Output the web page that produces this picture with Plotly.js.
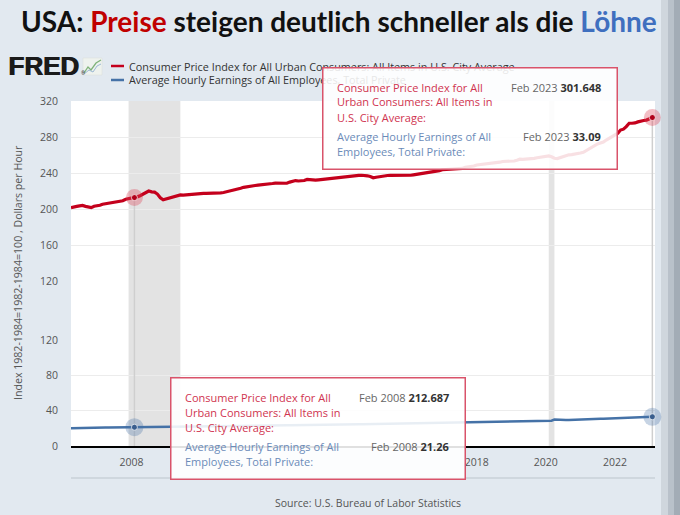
<!DOCTYPE html>
<html>
<head>
<meta charset="utf-8">
<script src="https://cdn.plot.ly/plotly-3.0.1.min.js"></script>
<style>html,body{margin:0;padding:0;background:#e2e9f0;}#chart{width:680px;height:515px;}</style>
</head>
<body>
<div id="chart"></div>
<script>
// ---- Data (monthly, Apr 2006 – Feb 2023) ----
const startMonth = '2006-04';
const cpiValues = [
 201.5,202.5,202.9,203.5,203.9,202.9,201.8,201.5,203.1,
 203.4,204.2,205.3,205.9,206.8,207.2,207.6,207.7,208.5,209.2,210.8,211.4,
 212.2,212.687,213.5,214.8,216.6,218.8,220.0,219.1,218.8,216.6,212.4,210.2,
 211.1,212.2,212.7,213.2,213.9,215.7,215.4,215.8,216.0,216.2,216.3,216.9,
 217.5,217.3,217.4,217.4,217.3,217.2,217.6,217.9,218.3,219.0,219.5,220.4,
 221.2,221.9,223.0,224.1,224.8,224.8,225.4,226.1,226.6,226.8,227.2,227.2,
 227.8,228.3,228.8,228.9,228.5,228.5,228.6,229.9,231.0,231.6,231.1,231.2,
 231.7,232.9,232.4,231.8,232.0,232.4,232.8,233.0,233.5,233.6,234.1,234.7,
 235.3,235.5,236.0,236.5,237.0,237.4,237.5,237.4,237.5,237.4,236.9,236.1,
 234.7,235.3,235.9,236.2,236.9,237.2,237.4,237.4,237.1,237.4,237.6,237.7,
 237.8,237.5,238.0,238.5,239.0,239.6,239.9,240.3,240.9,241.4,241.7,242.6,
 243.6,243.8,243.7,244.1,244.0,244.2,244.2,245.1,246.4,246.6,247.3,247.8,
 248.9,249.2,249.5,250.0,250.6,251.0,251.2,251.7,252.0,252.8,252.8,252.7,
 252.6,253.3,254.2,255.3,255.2,255.3,255.7,256.0,256.2,256.9,257.3,258.0,
 258.7,259.0,258.1,256.4,256.0,257.2,258.4,259.4,260.2,260.4,260.8,261.6,
 262.2,263.0,264.9,266.8,268.6,270.9,272.3,273.3,274.3,276.6,278.5,280.1,
 281.9,284.2,287.7,288.7,291.5,295.3,295.3,295.6,296.8,298.0,298.3,298.8,
 300.5,301.648
];
const wageValues = [
 20.17,20.16,20.27,20.34,20.38,20.45,20.54,20.57,20.68,
 20.70,20.75,20.80,20.83,20.90,20.96,21.00,21.05,21.10,21.13,21.17,21.20,
 21.22,21.26,21.33,21.39,21.44,21.51,21.60,21.67,21.71,21.78,21.87,21.95,
 22.00,22.06,22.10,22.18,22.20,22.23,22.27,22.33,22.37,22.44,22.46,22.48,
 22.50,22.53,22.56,22.59,22.64,22.65,22.69,22.73,22.76,22.81,22.80,22.83,
 22.87,22.88,22.90,22.96,23.02,23.03,23.11,23.06,23.13,23.17,23.18,23.20,
 23.28,23.28,23.35,23.40,23.40,23.45,23.51,23.52,23.60,23.58,23.63,23.71,
 23.75,23.80,23.82,23.84,23.87,23.98,23.98,24.05,24.07,24.09,24.15,24.19,
 24.22,24.33,24.35,24.36,24.42,24.45,24.48,24.54,24.54,24.60,24.66,24.62,
 24.75,24.78,24.86,24.89,24.97,24.97,25.03,25.12,25.14,25.25,25.26,25.27,
 25.39,25.38,25.43,25.53,25.56,25.62,25.69,25.71,25.78,25.89,25.87,25.98,
 26.03,26.09,26.14,26.19,26.22,26.28,26.36,26.39,26.51,26.51,26.56,26.63,
 26.71,26.76,26.84,26.88,26.97,27.03,27.09,27.19,27.26,27.31,27.40,27.49,
 27.56,27.65,27.68,27.73,27.79,27.86,27.96,28.08,28.10,28.17,28.26,28.30,
 28.44,28.52,28.68,30.01,29.72,29.36,29.37,29.47,29.49,29.52,29.62,29.86,
 29.94,29.94,29.93,30.14,30.33,30.42,30.53,30.71,30.85,31.00,31.13,31.34,
 31.56,31.59,31.74,31.87,31.97,32.08,32.27,32.36,32.47,32.61,32.79,32.91,
 33.05,33.09
];
const recessionStarts = ['2007-12-01', '2020-02-01'];
const recessionEnds   = ['2009-06-01', '2020-04-01'];
const hoverDates = ['2008-02-01', '2023-02-01'];
const topTicks = [120,160,200,240,280,320];
const bottomTicks = [0,40,80,120];
// tick labels visible in the picture (2010–2016 are hidden under the tooltip)
const xTickVals = ['2008-01-01','2018-01-01','2020-01-01','2022-01-01'];
const xTickText = ['2008','2018','2020','2022'];
const cpiName = 'Consumer Price Index for All Urban Consumers: All Items in U.S. City Average';
const wageName = 'Average Hourly Earnings of All Employees, Total Private';
const cpiTipLines = ['Consumer Price Index for All','Urban Consumers: All Items in','U.S. City Average:'];
const wageTipLines = ['Average Hourly Earnings of All','Employees, Total Private:'];
const monthAbbr = ['Jan','Feb','Mar','Apr','May','Jun','Jul','Aug','Sep','Oct','Nov','Dec'];

// months axis
const dates = [];
{
  let [y, m] = startMonth.split('-').map(Number);
  for (let i = 0; i < cpiValues.length; i++) {
    dates.push(y + '-' + String(m).padStart(2,'0') + '-01');
    m++; if (m > 12) { m = 1; y++; }
  }
}

// ---- Layout geometry helpers (pixels -> paper) ----
const L = 71, R = 655, T = 101, B = 446, FW = 680, FH = 515;
const PW = R - L, PH = B - T;
const px = x => (x - L) / PW;
const py = y => (B - y) / PH;
const topDom = [py(281), 1];
const botDom = [0, py(340)];
const topRange = [120, 320], botRange = [0, 120];

const RED = '#c4001c', BLUE = '#4572a7';
const FONT = 'Open Sans, sans-serif';

const traces = [];
// hover guide lines (drawn from data through axes)
hoverDates.forEach(d => {
  const i = dates.indexOf(d);
  traces.push({x:[d,d], y:[cpiValues[i], topRange[0]], xaxis:'x', yaxis:'y', mode:'lines',
    line:{color:'#cfcfcf', width:1.5}, hoverinfo:'skip', showlegend:false});
  traces.push({x:[d,d], y:[botRange[1], 0], xaxis:'x', yaxis:'y2', mode:'lines',
    line:{color:'#cfcfcf', width:1.5}, hoverinfo:'skip', showlegend:false});
});
traces.push({x:dates, y:cpiValues, xaxis:'x', yaxis:'y', mode:'lines', name:cpiName,
  line:{color:RED, width:3.2}, showlegend:false});
traces.push({x:dates, y:wageValues, xaxis:'x', yaxis:'y2', mode:'lines', name:wageName,
  line:{color:BLUE, width:2.5}, showlegend:false});
const hi = hoverDates.map(d => dates.indexOf(d));
traces.push({x:hoverDates, y:hi.map(i=>cpiValues[i]), xaxis:'x', yaxis:'y', mode:'markers',
  marker:{size:17, color:'rgba(220,70,90,0.35)'}, hoverinfo:'skip', showlegend:false, cliponaxis:false});
traces.push({x:hoverDates, y:hi.map(i=>cpiValues[i]), xaxis:'x', yaxis:'y', mode:'markers',
  marker:{size:6, color:'#b0001a', line:{color:'rgba(255,255,255,0.7)', width:1}}, hoverinfo:'skip', showlegend:false, cliponaxis:false});
traces.push({x:hoverDates, y:hi.map(i=>wageValues[i]), xaxis:'x', yaxis:'y2', mode:'markers',
  marker:{size:18, color:'rgba(69,114,167,0.3)'}, hoverinfo:'skip', showlegend:false, cliponaxis:false});
traces.push({x:hoverDates, y:hi.map(i=>wageValues[i]), xaxis:'x', yaxis:'y2', mode:'markers',
  marker:{size:6, color:'#3a5e8e', line:{color:'rgba(255,255,255,0.7)', width:1}}, hoverinfo:'skip', showlegend:false, cliponaxis:false});

// ---- shapes ----
const shapes = [];
shapes.push({type:'rect', xref:'paper', yref:'paper', x0:0, x1:1, y0:0, y1:1, fillcolor:'#ffffff', line:{width:0}, layer:'below'});
recessionStarts.forEach((s, k) => {
  shapes.push({type:'rect', xref:'x', yref:'paper', x0:s, x1:recessionEnds[k], y0:0, y1:1, fillcolor:'#e3e3e3', line:{width:0}, layer:'below'});
});
// hover guide through the gap between panels
hoverDates.forEach(d => {
  shapes.push({type:'line', xref:'x', yref:'paper', x0:d, x1:d, y0:botDom[1], y1:topDom[0], line:{color:'#cfcfcf', width:1.5}, layer:'below'});
});
// bottom frame line
shapes.push({type:'line', xref:'paper', yref:'paper', x0:0, x1:1, y0:py(478), y1:py(478), line:{color:'#c9d1d9', width:1.5}, layer:'below'});
// right screen edge shading
shapes.push({type:'rect', xref:'paper', yref:'paper', x0:px(661), x1:px(681), y0:py(516), y1:py(-1), fillcolor:'#cfd6dd', line:{width:0}, layer:'below'});
shapes.push({type:'rect', xref:'paper', yref:'paper', x0:px(668), x1:px(681), y0:py(516), y1:py(-1), fillcolor:'#b9c1ca', line:{width:0}, layer:'below'});
shapes.push({type:'rect', xref:'paper', yref:'paper', x0:px(674), x1:px(681), y0:py(516), y1:py(-1), fillcolor:'#a3acb6', line:{width:0}, layer:'below'});
// FRED icon
shapes.push({type:'rect', xref:'paper', yref:'paper', x0:px(83), x1:px(102), y0:py(75), y1:py(58), fillcolor:'#eef2ee', line:{color:'#d8ddd8', width:0.5}, layer:'below'});
shapes.push({type:'path', xref:'paper', yref:'paper', layer:'below',
  path:'M'+px(84)+','+py(73)+' L'+px(88)+','+py(67)+' L'+px(91)+','+py(70)+' L'+px(96)+','+py(63)+' L'+px(101)+','+py(60),
  line:{color:'#7fb27a', width:1.3}});
shapes.push({type:'path', xref:'paper', yref:'paper', layer:'below',
  path:'M'+px(84)+','+py(74)+' L'+px(89)+','+py(70)+' L'+px(93)+','+py(72)+' L'+px(97)+','+py(66)+' L'+px(101)+','+py(64),
  line:{color:'#9bb8d3', width:1}});
// legend dashes
shapes.push({type:'line', xref:'paper', yref:'paper', x0:px(111), x1:px(124), y0:py(66), y1:py(66), line:{color:RED, width:2.5}, layer:'below'});
shapes.push({type:'line', xref:'paper', yref:'paper', x0:px(111), x1:px(124), y0:py(80), y1:py(80), line:{color:BLUE, width:2.5}, layer:'below'});

// ---- annotations ----
const ann = [];
const A = (o) => ann.push(Object.assign({xref:'paper', yref:'paper', showarrow:false, borderpad:0}, o));
// title
A({x:px(339), y:py(21), xanchor:'center', yanchor:'middle',
  text:'<b>USA: <span style="color:#c00000">Preise</span> steigen deutlich schneller als die <span style="color:#3f6fbf">Löhne</span></b>',
  font:{family:'Lato, sans-serif', size:28, color:'#111'}});
// FRED logo (doubled for a heavier weight)
[7, 7.8].forEach(xx => A({x:px(xx), y:py(66.5), xanchor:'left', yanchor:'middle', text:'<b>FRED</b>',
  font:{family:'Liberation Sans, Arial, sans-serif', size:26, color:'#1a1a1a'}}));
A({x:px(79.5), y:py(73), xanchor:'left', yanchor:'middle', text:'®', font:{family:FONT, size:5, color:'#333'}});
// legend text
A({x:px(128), y:py(66), xanchor:'left', yanchor:'middle', text:cpiName, font:{family:FONT, size:10.8, color:'#333'}});
A({x:px(128), y:py(80), xanchor:'left', yanchor:'middle', text:wageName, font:{family:FONT, size:10.8, color:'#333'}});
// y title
A({x:px(18), y:py(273), xanchor:'center', yanchor:'middle', textangle:-90,
  text:'Index 1982-1984=1982-1984=100 , Dollars per Hour', font:{family:FONT, size:10.6, color:'#555'}});
// source
A({x:px(368), y:py(503), xanchor:'center', yanchor:'middle', text:'Source: U.S. Bureau of Labor Statistics',
  font:{family:FONT, size:10.5, color:'#555'}});
// tooltips
function tooltip(left, top, idx) {
  const d = dates[idx];
  const [yy, mm] = d.split('-').map(Number);
  const lbl = monthAbbr[mm-1] + ' ' + yy;
  A({x:px(left), y:py(top), xanchor:'left', yanchor:'top', text:' ', width:293, height:100,
    bgcolor:'rgba(255,255,255,0.88)', bordercolor:'#d9536a', borderwidth:1.5});
  cpiTipLines.forEach((t, k) => A({x:px(left+14), y:py(top+20+15*k), xanchor:'left', yanchor:'middle', text:t,
    font:{family:FONT, size:11, color:'#d0344f'}}));
  wageTipLines.forEach((t, k) => A({x:px(left+14), y:py(top+69+15*k), xanchor:'left', yanchor:'middle', text:t,
    font:{family:FONT, size:11, color:'#6b8bb9'}}));
  A({x:px(left+280), y:py(top+20), xanchor:'right', yanchor:'middle',
    text:lbl+' <b><span style="color:#333">'+cpiValues[idx]+'</span></b>', font:{family:FONT, size:11, color:'#666'}});
  A({x:px(left+280), y:py(top+69), xanchor:'right', yanchor:'middle',
    text:lbl+' <b><span style="color:#333">'+wageValues[idx]+'</span></b>', font:{family:FONT, size:11, color:'#666'}});
}
tooltip(322, 67, hi[1]);
tooltip(170, 377, hi[0]);

const layout = {
  width: FW, height: FH,
  margin: {l:L, r:FW-R, t:T, b:FH-B, pad:0},
  paper_bgcolor:'#e2e9f0', plot_bgcolor:'rgba(0,0,0,0)',
  showlegend:false,
  font:{family:FONT, color:'#555'},
  xaxis:{type:'date', anchor:'y2', range:['2006-04-01','2023-03-01'], tickvals:xTickVals, ticktext:xTickText,
    showgrid:false, zeroline:false, showline:true, linecolor:'#000', linewidth:2, ticks:'',
    tickfont:{size:10.5, color:'#555'}, ticklabelstandoff:5},
  yaxis:{domain:topDom, range:topRange, tickvals:topTicks, showgrid:true, gridcolor:'#ececec', gridwidth:1,
    zeroline:false, showline:false, ticks:'', tickfont:{size:10.5, color:'#555'}, ticklabelstandoff:12},
  yaxis2:{domain:botDom, range:botRange, tickvals:bottomTicks, showgrid:true, gridcolor:'#ececec', gridwidth:1,
    zeroline:false, showline:false, ticks:'', tickfont:{size:10.5, color:'#555'}, ticklabelstandoff:12},
  shapes: shapes,
  annotations: ann,
  hovermode:false
};
Plotly.newPlot('chart', traces, layout, {displayModeBar:false, staticPlot:true});
</script>
</body>
</html>
